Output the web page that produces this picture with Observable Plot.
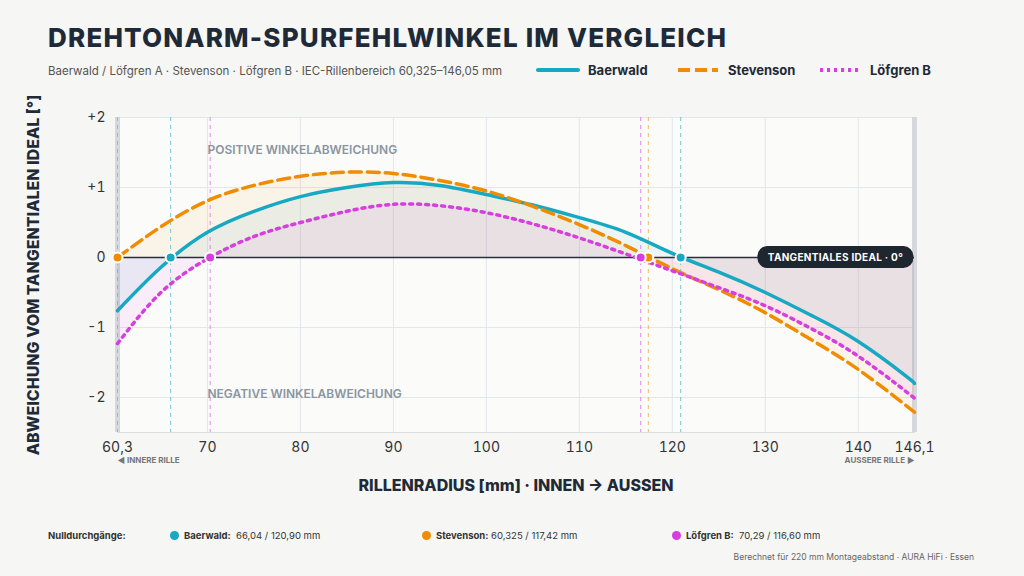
<!DOCTYPE html>
<html><head><meta charset="utf-8">
<script src="https://cdn.jsdelivr.net/npm/d3@7"></script>
<script src="https://cdn.jsdelivr.net/npm/@observablehq/plot@0.6"></script>
<style>
body{margin:0;background:#f6f6f4;font-family:Inter,"Noto Sans",sans-serif;color:#1f2a36;width:1024px;height:576px;overflow:hidden;position:relative}
h1{position:absolute;left:48px;top:22px;margin:0;font-size:26px;font-weight:800;letter-spacing:1.2px;color:#1e2a38}
.sub{position:absolute;left:48px;top:64px;font-size:11.5px;color:#555}
.leg{position:absolute;top:62px;font-size:13px;font-weight:700;display:flex;align-items:center;gap:8px}
#chart{position:absolute;left:0;top:100px}
.nul{position:absolute;top:530px;font-size:9.5px;color:#333}
.dot{display:inline-block;width:9px;height:9px;border-radius:50%;margin-right:5px;vertical-align:-1px}
.foot{position:absolute;right:50px;top:552px;font-size:8.5px;color:#666}
.pill{position:absolute;background:#1e2630;color:#fff;font-size:10px;font-weight:700;padding:5px 10px;border-radius:10px;transform:translate(-50%,-50%);white-space:nowrap;letter-spacing:0.3px}
</style></head><body>
<h1>DREHTONARM-SPURFEHLWINKEL IM VERGLEICH</h1>
<div class="sub">Baerwald / Löfgren A · Stevenson · Löfgren B · IEC-Rillenbereich 60,325–146,05 mm</div>
<div class="leg" style="left:536px"><svg width="44" height="8"><line x1="2" y1="4" x2="42" y2="4" stroke="#17a9c3" stroke-width="4" stroke-linecap="round"/></svg>Baerwald</div>
<div class="leg" style="left:676px"><svg width="44" height="8"><line x1="2" y1="4" x2="42" y2="4" stroke="#f08c00" stroke-width="4" stroke-dasharray="12,5"/></svg>Stevenson</div>
<div class="leg" style="left:818px"><svg width="44" height="8"><line x1="2" y1="4" x2="42" y2="4" stroke="#d63ee0" stroke-width="4" stroke-dasharray="3,4"/></svg>Löfgren B</div>
<div id="chart"></div>
<div class="nul" style="left:48px;font-weight:700">Nulldurchgänge:</div>
<div class="nul" style="left:170px"><span class="dot" style="background:#17a9c3"></span><b>Baerwald:</b>&nbsp; 66,04 / 120,90 mm</div>
<div class="nul" style="left:422px"><span class="dot" style="background:#f08c00"></span><b>Stevenson:</b> 60,325 / 117,42 mm</div>
<div class="nul" style="left:672px"><span class="dot" style="background:#d63ee0"></span><b>Löfgren B:</b>&nbsp; 70,29 / 116,60 mm</div>
<div class="foot">Berechnet für 220 mm Montageabstand · AURA HiFi · Essen</div>
<script>
const radius =    [60.325,65,70,75,80,85,90,95,100,105,110,115,120,125,130,135,140,145,146.05];
const baerwald =  [-0.76,-0.14,0.36,0.66,0.87,1.0,1.07,1.03,0.9,0.75,0.57,0.36,0.06,-0.21,-0.5,-0.83,-1.2,-1.68,-1.8];
const stevenson = [0,0.44,0.81,1.03,1.16,1.22,1.2,1.1,0.95,0.73,0.47,0.17,-0.16,-0.46,-0.79,-1.18,-1.6,-2.1,-2.21];
const lofgren =   [-1.23,-0.5,-0.02,0.3,0.5,0.66,0.76,0.74,0.64,0.48,0.28,0.05,-0.19,-0.43,-0.69,-1.02,-1.41,-1.9,-2.01];
const series = [["Baerwald",baerwald,"#17a9c3",null,66.04,120.9],["Stevenson",stevenson,"#f08c00","12,6",60.325,117.42],["Löfgren B",lofgren,"#d63ee0","3,5",70.29,116.6]];
const xTicks=[60.325,70,80,90,100,110,120,130,140,146.05];
const yTicks=[2,1,0,-1,-2];
const rows=series.flatMap(([n,v])=>radius.map((r,i)=>({n,r,v:v[i]})));
const nulls=series.flatMap(([n,,c,,a,b])=>[{n,r:a,c},{n,r:b,c}]);
const marks=[
  Plot.frame({fill:"#fbfbfa",stroke:"#d9dde2"}),
  Plot.gridX(xTicks,{stroke:"#e3e6ea",strokeOpacity:1}),
  Plot.gridY(yTicks,{stroke:"#e3e6ea",strokeOpacity:1}),
  Plot.ruleX([60.325,146.05],{stroke:"#d5d9de",strokeWidth:5}),
];
series.forEach(([n,v,c])=>marks.push(Plot.areaY(rows.filter(d=>d.n===n),{x:"r",y:"v",fill:c,fillOpacity:0.07,curve:"natural"})));
marks.push(
  Plot.ruleX(nulls,{x:"r",stroke:"c",strokeDasharray:"4,4",strokeOpacity:0.6}),
  Plot.ruleY([0],{stroke:"#2a2f38",strokeWidth:1.5}),
  Plot.text(["POSITIVE WINKELABWEICHUNG"],{x:70,y:1.53,text:d=>d,textAnchor:"start",fill:"#8a95a0",fontSize:12,fontWeight:600}),
  Plot.text(["NEGATIVE WINKELABWEICHUNG"],{x:70,y:-1.95,text:d=>d,textAnchor:"start",fill:"#8a95a0",fontSize:12,fontWeight:600}),
  Plot.text(["◀ INNERE RILLE"],{x:60.325,y:-2.9,text:d=>d,textAnchor:"start",fill:"#777",fontSize:8,fontWeight:700}),
  Plot.text(["AUSSERE RILLE ▶"],{x:146.05,y:-2.9,text:d=>d,textAnchor:"end",fill:"#777",fontSize:8,fontWeight:700})
);
series.forEach(([n,v,c,dash])=>marks.push(Plot.line(rows.filter(d=>d.n===n),{x:"r",y:"v",stroke:c,strokeWidth:3.5,strokeDasharray:dash,curve:"natural"})));
marks.push(Plot.dot(nulls,{x:"r",y:0,fill:"c",stroke:"white",strokeWidth:2,r:5}));
const p=Plot.plot({width:1024,height:400,marginLeft:117,marginRight:110,marginTop:17,marginBottom:68,
  style:{fontFamily:"Inter, sans-serif",background:"transparent",overflow:"visible"},
  x:{domain:[60.325,146.05],ticks:xTicks,tickFormat:d=>d===60.325?"60,3":d===146.05?"146,1":d,tickSize:0,tickPadding:10,label:"RILLENRADIUS [mm] · INNEN → AUSSEN",labelAnchor:"center",labelOffset:58},
  y:{domain:[-2.5,2],ticks:yTicks,tickFormat:d=>d>0?"+"+d:d,tickSize:0,tickPadding:12,label:"ABWEICHUNG VOM TANGENTIALEN IDEAL [°]",labelAnchor:"center",labelOffset:90,labelArrow:"none"},
  marks});
p.querySelectorAll('[aria-label="x-axis tick label"], [aria-label="y-axis tick label"]').forEach(g=>{g.setAttribute("font-size","14");g.setAttribute("fill","#333")});
p.querySelectorAll('[aria-label="x-axis label"], [aria-label="y-axis label"]').forEach(g=>{g.setAttribute("font-size","16");g.setAttribute("font-weight","800");g.setAttribute("fill","#1e2a38")});
const c=document.getElementById("chart");c.append(p);
const pill=document.createElement("div");pill.className="pill";pill.textContent="TANGENTIALES IDEAL · 0°";
pill.style.left=p.scale("x").apply(137.6)+"px";pill.style.top=p.scale("y").apply(0)+"px";c.style.width="1024px";c.append(pill);
</script></body></html>
